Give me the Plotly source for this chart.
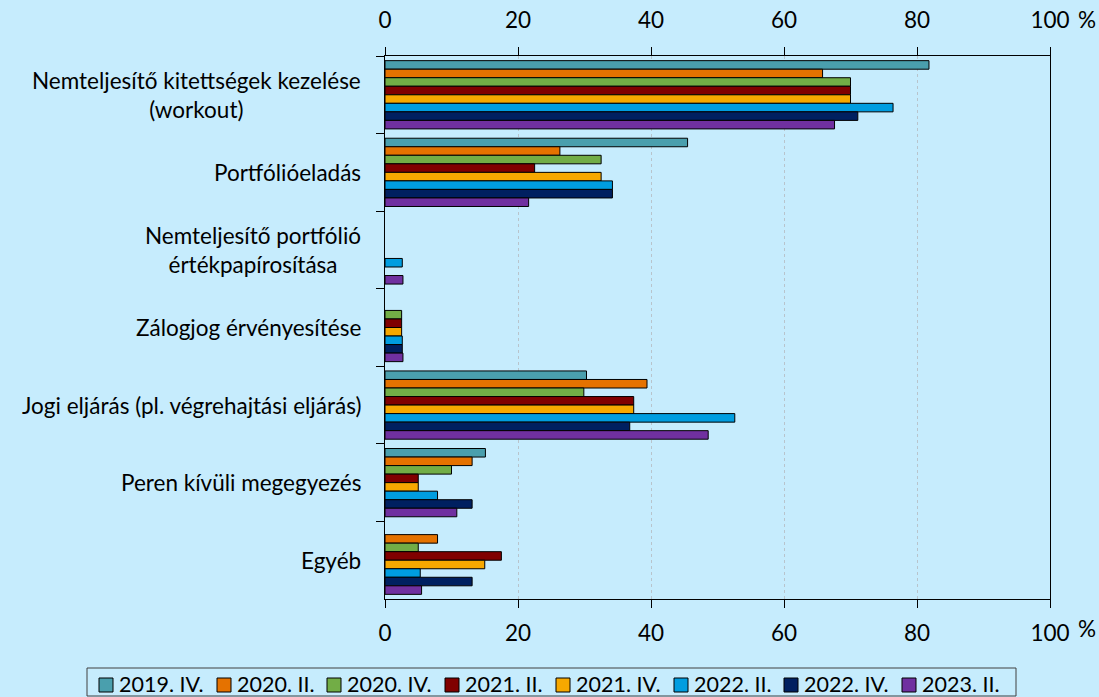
import plotly.graph_objects as go

categories = [
    "Nemteljesítő kitettségek kezelése<br>(workout)",
    "Portfólióeladás",
    "Nemteljesítő portfólió<br>értékpapírosítása",
    "Zálogjog érvényesítése",
    "Jogi eljárás (pl. végrehajtási eljárás)",
    "Peren kívüli megegyezés",
    "Egyéb",
]

series_names = ["2019. IV.", "2020. II.", "2020. IV.", "2021. II.",
                "2021. IV.", "2022. II.", "2022. IV.", "2023. II."]

s2019_IV = [81.8, 45.5, None, None, 30.3, 15.1, None]
s2020_II = [65.8, 26.3, None, None, 39.4, 13.1, 7.9]
s2020_IV = [70.0, 32.5, None, 2.5, 29.9, 10.0, 5.0]
s2021_II = [70.0, 22.5, None, 2.5, 37.4, 5.0, 17.5]
s2021_IV = [70.0, 32.5, None, 2.5, 37.4, 5.0, 15.0]
s2022_II = [76.4, 34.2, 2.6, 2.6, 52.6, 7.9, 5.3]
s2022_IV = [71.1, 34.2, None, 2.6, 36.8, 13.1, 13.1]
s2023_II = [67.6, 21.6, 2.7, 2.7, 48.6, 10.8, 5.5]

series_values = [s2019_IV, s2020_II, s2020_IV, s2021_II,
                 s2021_IV, s2022_II, s2022_IV, s2023_II]

colors = ["#4A9FAD", "#E57200", "#72AD46", "#800000",
          "#F7A800", "#009DE0", "#002060", "#7030A0"]

x_ticks = [0, 20, 40, 60, 80, 100]

BG = "#C6ECFD"
FONT = "Lato"
FS = 22.5
LEG_FS = 21.5
W, H = 1099, 697
L, R, T, B = 385, 49, 56, 98
PW, PH = W - L - R, H - T - B


def px(xp):
    return (xp - L) / PW


def py(yp):
    return (H - B - yp) / PH


fig = go.Figure()
for name, vals, col in zip(series_names, series_values, colors):
    fig.add_trace(go.Bar(
        y=categories, x=vals, name=name, orientation="h",
        marker=dict(color=col, line=dict(color="#000000", width=1)),
        showlegend=False,
    ))

# invisible trace so the top (mirrored) value axis is drawn
fig.add_trace(go.Scatter(
    x=s2019_IV, y=categories, xaxis="x2", mode="markers",
    marker=dict(opacity=0), showlegend=False, hoverinfo="skip",
))

axis_common = dict(
    range=[0, 100], tickvals=x_ticks, ticks="outside", ticklen=8,
    tickcolor="#000000", tickwidth=1, showline=True, linecolor="#000000",
    linewidth=1, zeroline=False, automargin=False,
    tickfont=dict(family=FONT, size=FS, color="#000000"),
)

fig.update_layout(
    width=W, height=H,
    margin=dict(l=L, r=R, t=T, b=B, pad=0, autoexpand=False),
    paper_bgcolor=BG, plot_bgcolor=BG,
    barmode="group", bargap=0.12, bargroupgap=0,
    font=dict(family=FONT, size=FS, color="#000000"),
    xaxis=dict(**axis_common, side="bottom", showgrid=True,
               gridcolor="#B8C4CC", griddash="dot", gridwidth=1,
               ticklabelstandoff=6),
    xaxis2=dict(**axis_common, side="top", overlaying="x", anchor="y",
                showgrid=False, ticklabelstandoff=10),
    yaxis=dict(type="category", categoryorder="array", categoryarray=categories,
               range=[len(categories) - 0.5, -0.5], autorange=False,
               tickson="boundaries", automargin=False,
               ticks="outside", ticklen=8, tickcolor="#000000",
               showticklabels=False, showline=True, mirror=True,
               linecolor="#000000", linewidth=1, showgrid=False, zeroline=False),
)

annotations = []
# category labels
for cat in categories:
    annotations.append(dict(
        x=px(363), xref="paper", y=cat, yref="y", text=cat,
        showarrow=False, xanchor="right", yanchor="middle", align="center",
        font=dict(family=FONT, size=FS, color="#000000"),
    ))
# percent signs
for yy in (19, 628):
    annotations.append(dict(
        x=px(1076), xref="paper", y=py(yy), yref="paper", text="%",
        showarrow=False, xanchor="left", yanchor="middle",
        font=dict(family=FONT, size=FS, color="#000000"),
    ))

# custom legend
shapes = [dict(type="rect", xref="paper", yref="paper",
               x0=px(87), x1=px(1016), y0=py(696), y1=py(668),
               line=dict(color="#404040", width=1), fillcolor=BG, layer="below")]
marker_x = [99, 217, 327, 445, 556, 674, 784, 902]
for mx, name, col in zip(marker_x, series_names, colors):
    shapes.append(dict(type="rect", xref="paper", yref="paper",
                       x0=px(mx), x1=px(mx + 14), y0=py(692), y1=py(678),
                       line=dict(color="#000000", width=1), fillcolor=col))
    annotations.append(dict(
        x=px(mx + 19), xref="paper", y=py(683.5), yref="paper", text=name,
        showarrow=False, xanchor="left", yanchor="middle", borderpad=0,
        font=dict(family=FONT, size=LEG_FS, color="#000000"),
    ))

fig.update_layout(annotations=annotations, shapes=shapes)

fig.write_html("out.html", config={"displayModeBar": False},
               post_script="document.body.style.margin='0';")
